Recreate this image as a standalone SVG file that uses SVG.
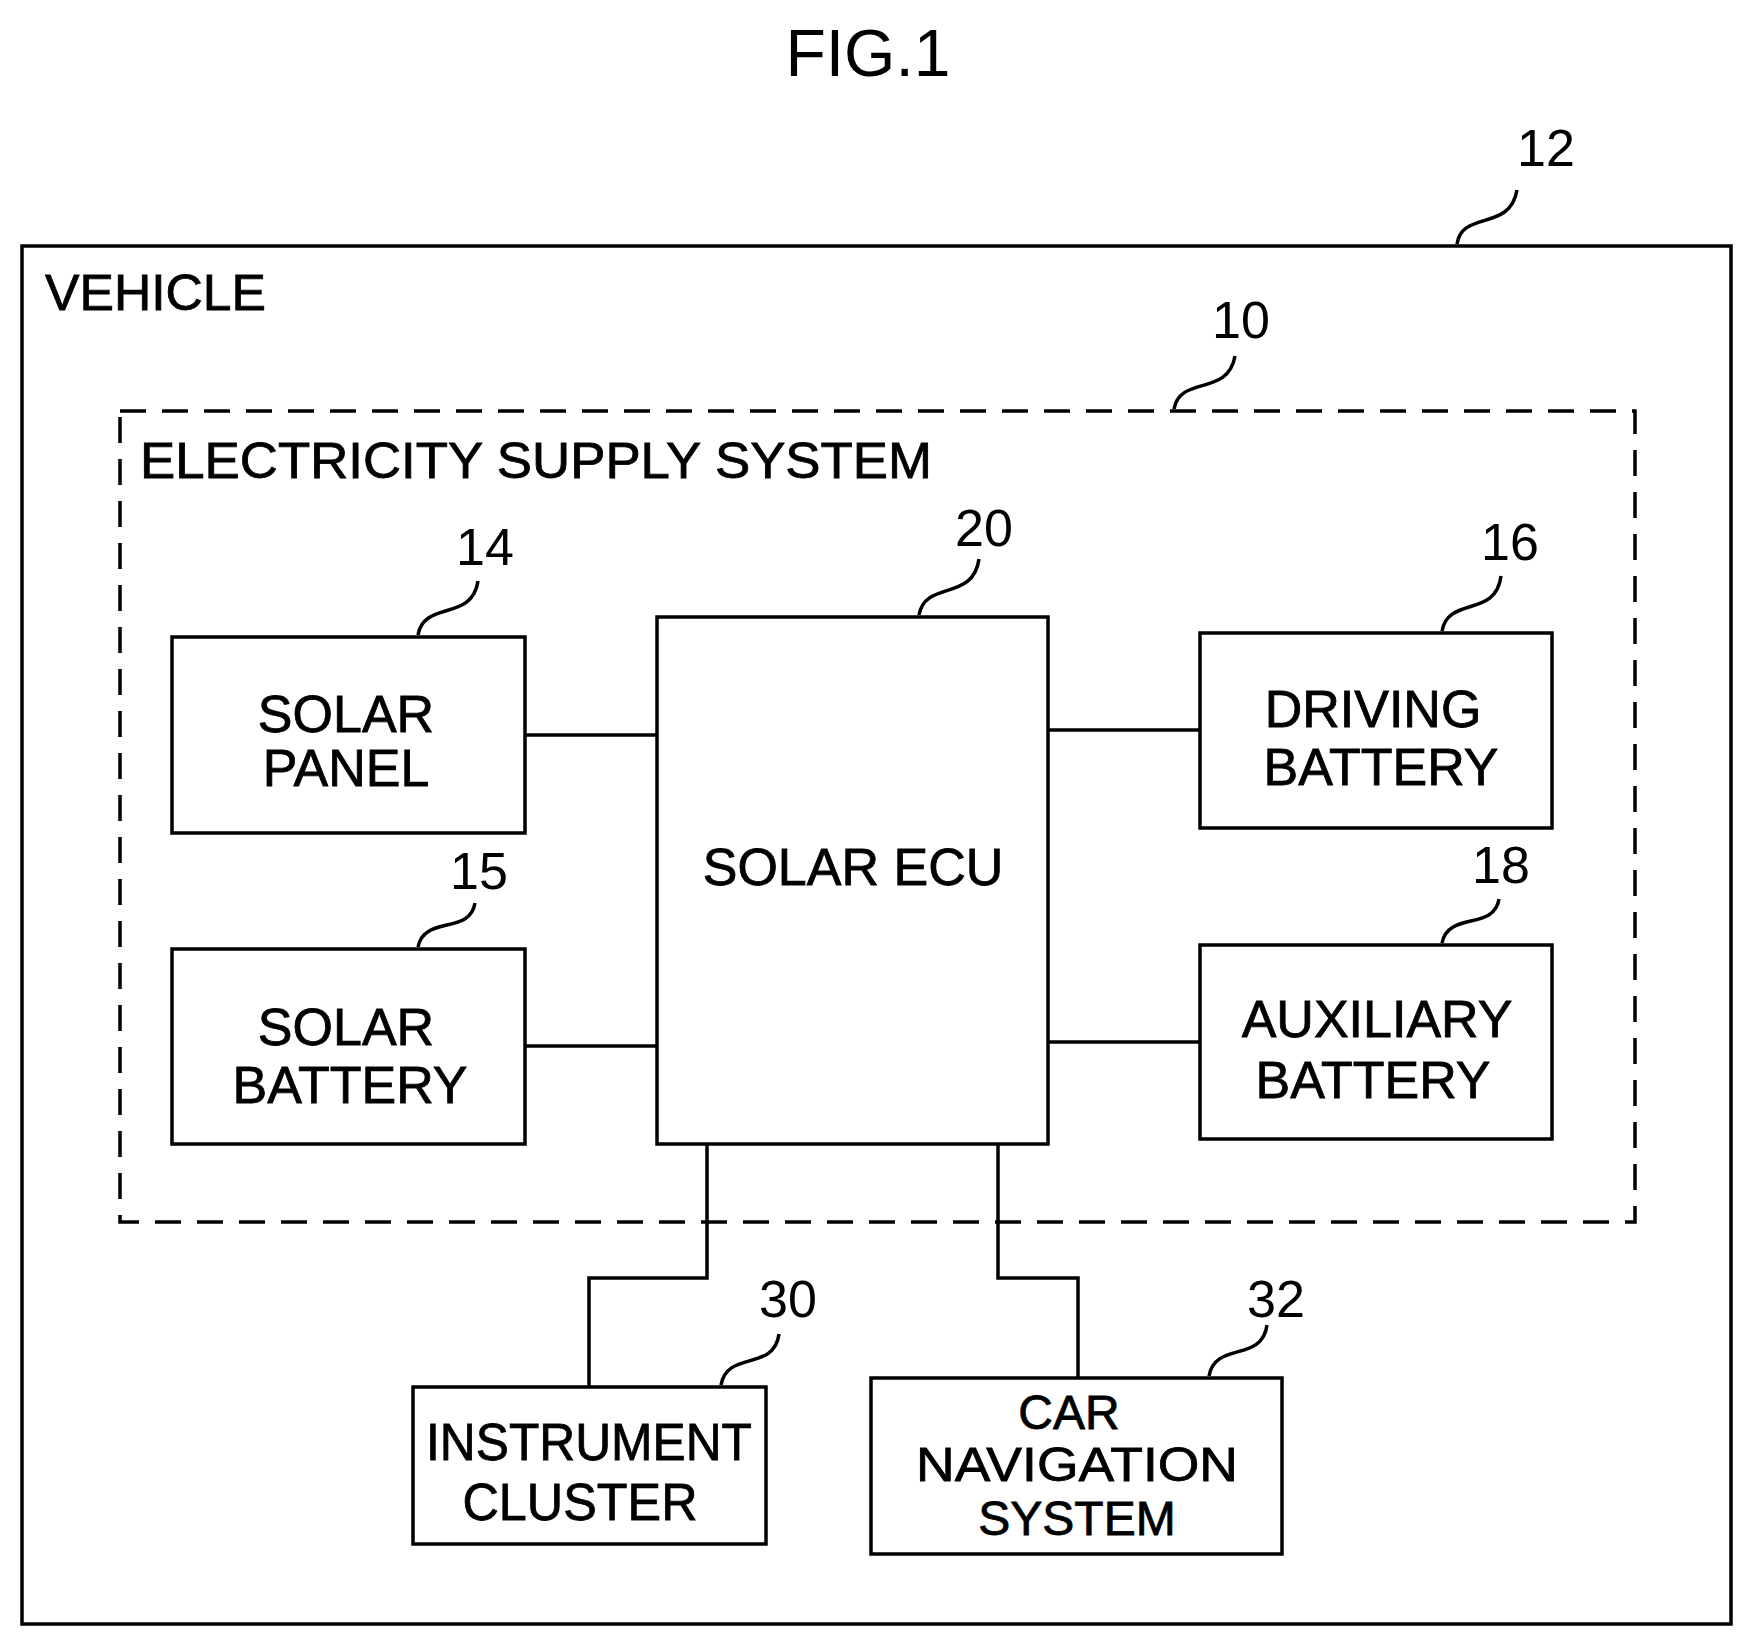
<svg xmlns="http://www.w3.org/2000/svg" width="1750" height="1645" viewBox="0 0 1750 1645">
<style>
.b{fill:none;stroke:#000;stroke-width:3.5}
.d{fill:none;stroke:#000;stroke-width:3.5;stroke-dasharray:26,16}
.l{fill:none;stroke:#000;stroke-width:3.5}
text{font-family:"Liberation Sans",Arial,sans-serif;font-size:52px;fill:#000;stroke:#000;stroke-width:0.8}
.c{text-anchor:middle}
.s{font-size:48px}
</style>
<rect width="1750" height="1645" fill="#fff"/>
<text class="c" x="868" y="76" style="font-size:66px;stroke-width:0">FIG.1</text>
<g id="vehicle">
<rect class="b" x="22" y="246" width="1709" height="1378"/>
<text x="45" y="310" style="font-size:50px" textLength="221" lengthAdjust="spacingAndGlyphs">VEHICLE</text>
<text x="1517" y="166" style="stroke-width:0">12</text>
<path class="l" d="M1457 244 C1462 210 1510 232 1517 190"/>
</g>
<g id="ess">
<rect class="d" x="120" y="411" width="1515" height="811"/>
<text x="140" y="478" style="font-size:50px" textLength="792" lengthAdjust="spacingAndGlyphs">ELECTRICITY SUPPLY SYSTEM</text>
<text x="1212" y="338" style="stroke-width:0">10</text>
<path class="l" d="M1174 409 C1180 375 1228 397 1235 356"/>
</g>
<g id="n14">
<rect class="b" x="172" y="637" width="353" height="196"/>
<text class="c" x="346" y="732">SOLAR</text><text class="c" x="346" y="786">PANEL</text>
<text x="456" y="565" style="stroke-width:0">14</text>
<path class="l" d="M418 635 C424 600 472 622 478 581"/>
</g>
<g id="n15">
<rect class="b" x="172" y="949" width="353" height="195"/>
<text class="c" x="346" y="1045">SOLAR</text><text class="c" x="350" y="1103">BATTERY</text>
<text x="450" y="889" style="stroke-width:0">15</text>
<path class="l" d="M418 947 C424 915 470 935 475 903"/>
</g>
<g id="n20">
<rect class="b" x="657" y="617" width="391" height="527"/>
<text class="c" x="853" y="885">SOLAR ECU</text>
<text x="955" y="546" style="stroke-width:0">20</text>
<path class="l" d="M919 615 C925 580 973 602 979 559"/>
</g>
<g id="n16">
<rect class="b" x="1200" y="633" width="352" height="195"/>
<text class="c" x="1373" y="727">DRIVING</text><text class="c" x="1381" y="785">BATTERY</text>
<text x="1481" y="560" style="stroke-width:0">16</text>
<path class="l" d="M1442 631 C1448 596 1496 618 1501 576"/>
</g>
<g id="n18">
<rect class="b" x="1200" y="945" width="352" height="194"/>
<text class="c" x="1377" y="1037">AUXILIARY</text><text class="c" x="1373" y="1098">BATTERY</text>
<text x="1472" y="883" style="stroke-width:0">18</text>
<path class="l" d="M1442 943 C1448 911 1494 931 1499 899"/>
</g>
<g id="n30">
<rect class="b" x="413" y="1387" width="353" height="157"/>
<text class="c" x="589" y="1460" textLength="326" lengthAdjust="spacingAndGlyphs">INSTRUMENT</text>
<text class="c" x="580" y="1520" textLength="235" lengthAdjust="spacingAndGlyphs">CLUSTER</text>
<text x="759" y="1317" style="stroke-width:0">30</text>
<path class="l" d="M721 1385 C727 1350 774 1372 779 1334"/>
</g>
<g id="n32">
<rect class="b" x="871" y="1378" width="411" height="176"/>
<text class="c s" x="1069" y="1429">CAR</text>
<text class="c s" x="1077" y="1481" textLength="322" lengthAdjust="spacingAndGlyphs">NAVIGATION</text>
<text class="c s" x="1077" y="1535">SYSTEM</text>
<text x="1247" y="1317" style="stroke-width:0">32</text>
<path class="l" d="M1209 1376 C1215 1341 1262 1363 1267 1325"/>
</g>
<g id="connectors">
<path class="l" d="M525 735H657M525 1046H657M1048 730H1200M1048 1042H1200M707 1144V1278H589V1387M998 1144V1278H1078V1378"/>
</g>
</svg>
